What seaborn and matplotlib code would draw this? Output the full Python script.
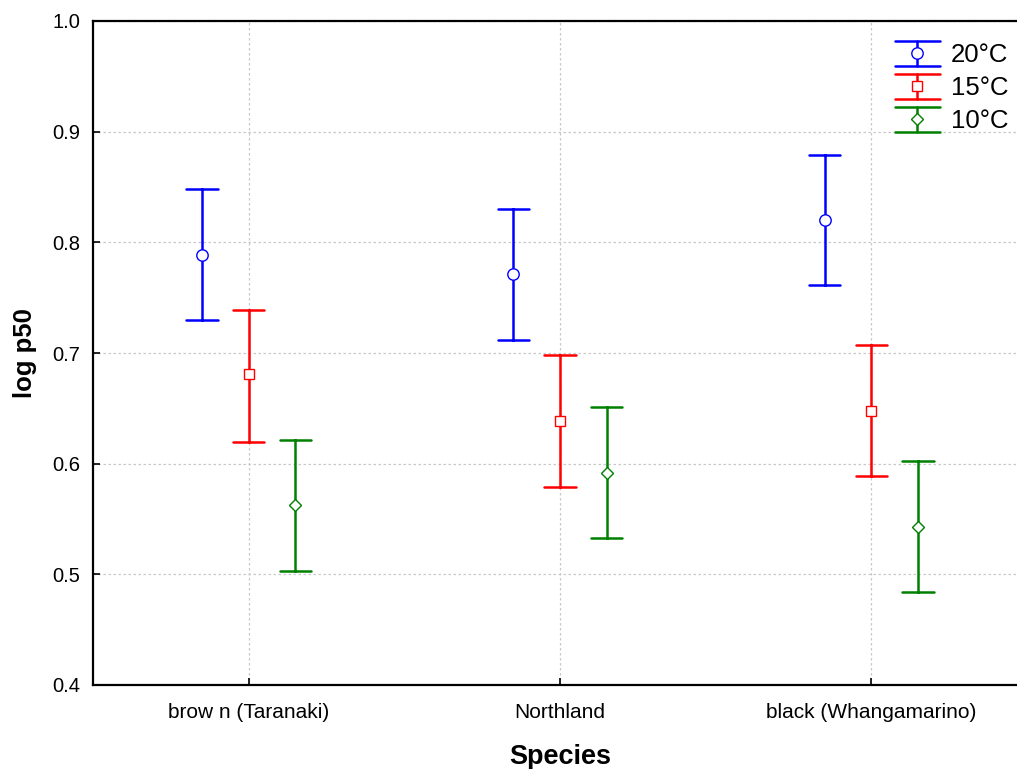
import matplotlib
matplotlib.use("Agg")
import matplotlib.pyplot as plt
import seaborn as sns
import pandas as pd
from matplotlib.lines import Line2D
from matplotlib.legend_handler import HandlerBase

species = ["brow n (Taranaki)", "Northland", "black (Whangamarino)"]
temps = ["20°C", "15°C", "10°C"]
colors = ["#0000ff", "#ff0000", "#008000"]
markers = ["o", "s", "D"]

# means and 95% limits per temperature (order of species)
mean_20 = [0.789, 0.771, 0.820]
lower_20 = [0.730, 0.712, 0.761]
upper_20 = [0.848, 0.830, 0.879]
mean_15 = [0.681, 0.639, 0.648]
lower_15 = [0.620, 0.579, 0.589]
upper_15 = [0.739, 0.698, 0.707]
mean_10 = [0.563, 0.592, 0.543]
lower_10 = [0.503, 0.533, 0.484]
upper_10 = [0.621, 0.651, 0.602]

groups = {
    "20°C": (lower_20, mean_20, upper_20),
    "15°C": (lower_15, mean_15, upper_15),
    "10°C": (lower_10, mean_10, upper_10),
}
rows = []
for t in temps:
    lo, mu, up = groups[t]
    for i, s in enumerate(species):
        for v in (lo[i], mu[i], up[i]):
            rows.append({"Species": s, "Temp": t, "log p50": v})
df = pd.DataFrame(rows)

sns.set_theme(style="white")
plt.rcParams["font.family"] = ["Liberation Sans", "DejaVu Sans"]
plt.rcParams["text.color"] = "black"
plt.rcParams["axes.labelcolor"] = "black"
plt.rcParams["xtick.color"] = "black"
plt.rcParams["ytick.color"] = "black"

fig = plt.figure(figsize=(10.17, 7.69), dpi=100)
ax = fig.add_axes([93 / 1017, 1 - 685 / 769, 934 / 1017, (685 - 21) / 769])

sns.pointplot(data=df, x="Species", y="log p50", hue="Temp", order=species,
              hue_order=temps, palette=colors, markers=markers, linestyles="none",
              estimator="median", errorbar=("pi", 100), dodge=0.3, capsize=0.1,
              err_kws={"linewidth": 1.8}, markersize=8, markeredgewidth=1.0,
              legend=False, ax=ax)

msize = {"o": 8.2, "s": 7.2, "D": 6.4}
for ln in ax.lines:
    mk = ln.get_marker()
    if mk in msize:
        ln.set_markerfacecolor("white")
        ln.set_markersize(msize[mk])
        ln.set_zorder(5)

ax.set_xlim(-0.5, 2.5)
ax.set_ylim(0.4, 1.0)
ax.set_yticks([0.4, 0.5, 0.6, 0.7, 0.8, 0.9, 1.0])
ax.grid(True, color="#c8c8c8", linestyle=(0, (2, 2)), linewidth=0.9)
ax.set_axisbelow(True)
for sp in ax.spines.values():
    sp.set_color("black")
    sp.set_linewidth(1.6)
ax.tick_params(axis="both", direction="in", length=5, width=1.2, colors="black",
               left=True, bottom=True)
ax.tick_params(axis="y", labelsize=14.5, pad=9)
ax.tick_params(axis="x", labelsize=15, pad=13)
ax.set_xlabel("Species", fontsize=19.5, fontweight="bold", labelpad=16)
ax.set_ylabel("log p50", fontsize=18.5, fontweight="bold", labelpad=11)


class ErrHandler(HandlerBase):
    def create_artists(self, legend, orig, xd, yd, w, h, fontsize, trans):
        c = orig.get_color()
        m = orig.get_marker()
        x0, x1 = -xd, -xd + w
        cx = (x0 + x1) / 2
        cy = -yd + h / 2
        half = 12.5 * 72 / 100  # pixels -> points
        y0, y1 = cy - half, cy + half
        arts = [
            Line2D([cx, cx], [y0, y1], color=c, lw=1.8),
            Line2D([x0, x1], [y0, y0], color=c, lw=1.8),
            Line2D([x0, x1], [y1, y1], color=c, lw=1.8),
            Line2D([cx], [cy], marker=m, markersize=orig.get_markersize(),
                   markerfacecolor="white", markeredgecolor=c, linestyle="none"),
        ]
        for a in arts:
            a.set_transform(trans)
        return arts


handles = [Line2D([], [], color=c, marker=m, markersize=msize[m])
           for c, m in zip(colors, markers)]
leg = ax.legend(handles, temps, loc="upper right", frameon=False, fontsize=18.5,
                handler_map={Line2D: ErrHandler()}, handlelength=1.75,
                handleheight=1.0, labelspacing=0.3, handletextpad=0.45,
                borderaxespad=0.0, bbox_to_anchor=(0.9914, 0.9845))

fig.savefig("out.png", dpi=100)
